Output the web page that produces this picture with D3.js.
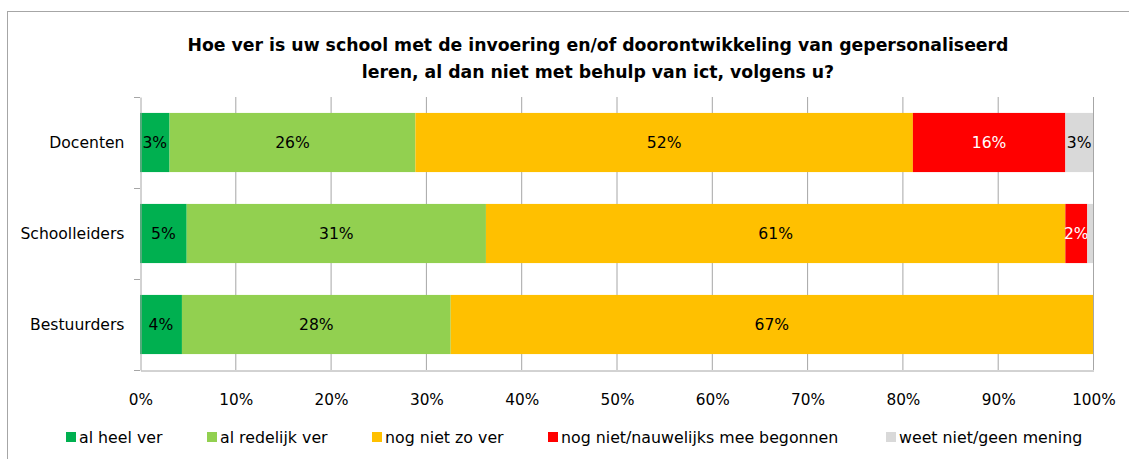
<!DOCTYPE html>
<html><head><meta charset="utf-8">
<script src="https://cdn.jsdelivr.net/npm/d3@7"></script>
<style>
html,body{margin:0;padding:0;background:#fff;}
svg{display:block;font-family:"DejaVu Sans",Verdana,sans-serif;}
</style></head>
<body>
<svg id="chart" width="1129" height="459"></svg>
<script>
const categories = ["Docenten", "Schoolleiders", "Bestuurders"];
const seriesNames = ["al heel ver", "al redelijk ver", "nog niet zo ver", "nog niet/nauwelijks mee begonnen", "weet niet/geen mening"];
const alHeelVer = [3.1, 4.9, 4.4];
const alRedelijkVer = [25.8, 31.4, 28.2];
const nogNietZoVer = [52.2, 60.8, 67.4];
const nogNietBegonnen = [16.0, 2.3, 0];
const weetNiet = [2.9, 0.6, 0];
const tickValues = [0, 10, 20, 30, 40, 50, 60, 70, 80, 90, 100];
const titleLines = ["Hoe ver is uw school met de invoering en/of doorontwikkeling van gepersonaliseerd", "leren, al dan niet met behulp van ict, volgens u?"];

const colors = ["#00b050", "#92d050", "#ffc000", "#ff0000", "#d9d9d9"];
const labelColors = ["#000", "#000", "#000", "#fff", "#000"];
const seriesValues = [alHeelVer, alRedelijkVer, nogNietZoVer, nogNietBegonnen, weetNiet];

const svg = d3.select("#chart");
// outer frame
svg.append("rect").attr("x", 7.5).attr("y", 11.5).attr("width", 1140).attr("height", 470)
  .attr("fill", "none").attr("stroke", "#a6a6a6").attr("stroke-width", 1);

const m = {left: 140, right: 1093, top: 97, bottom: 370};
const x = d3.scaleLinear().domain([0, 100]).range([m.left, m.right]);
const y = d3.scaleBand().domain(categories).range([m.top, m.bottom]).paddingInner(0.35).paddingOuter(0.175);

// title
const title = svg.append("text").attr("x", 598).attr("text-anchor", "middle")
  .attr("font-weight", "bold").attr("font-size", 17.3).attr("fill", "#000");
titleLines.forEach((t, i) => title.append("tspan").attr("x", 598).attr("y", 51 + i * 27).text(t));

// gridlines
svg.append("g").selectAll("line").data(tickValues.slice(1)).join("line")
  .attr("x1", d => x(d) + 0.5).attr("x2", d => x(d) + 0.5)
  .attr("y1", m.top).attr("y2", m.bottom)
  .attr("stroke", "#a6a6a6").attr("stroke-width", 1);

// stacked bars
const rows = categories.map((c, i) => {
  const o = {cat: c};
  seriesNames.forEach((s, j) => o[s] = seriesValues[j][i]);
  return o;
});
const stack = d3.stack().keys(seriesNames)(rows);
const fmt = d => Math.round(d) + "%";

stack.forEach((layer, j) => {
  const g = svg.append("g");
  g.selectAll("rect").data(layer).join("rect")
    .attr("x", d => x(d[0])).attr("width", d => x(d[1]) - x(d[0]))
    .attr("y", d => y(d.data.cat)).attr("height", y.bandwidth())
    .attr("fill", colors[j]);
  g.selectAll("text").data(layer.filter(d => d[1] - d[0] >= 1)).join("text")
    .attr("x", d => (x(d[0]) + x(d[1])) / 2)
    .attr("y", d => y(d.data.cat) + y.bandwidth() / 2)
    .attr("dy", "0.36em").attr("text-anchor", "middle")
    .attr("font-size", 15.6).attr("fill", labelColors[j])
    .text(d => fmt(d[1] - d[0]));
});

// y axis
const yAxis = svg.append("g").attr("transform", `translate(${m.left + 0.5},0)`)
  .call(d3.axisLeft(y).tickSize(0).tickPadding(16));
yAxis.select(".domain").attr("stroke", "#a6a6a6");
yAxis.selectAll("text").attr("font-size", 15.6).attr("fill", "#000").attr("font-family", "DejaVu Sans");
// y ticks at band boundaries
const bounds = [m.top, ...categories.map(c => y(c) + y.bandwidth() + y.step() * y.paddingInner() / 2)];
svg.append("g").selectAll("line").data(bounds).join("line")
  .attr("x1", m.left - 6).attr("x2", m.left).attr("y1", d => Math.round(d) + 0.5).attr("y2", d => Math.round(d) + 0.5)
  .attr("stroke", "#a6a6a6");

// x axis
const xAxis = svg.append("g").attr("transform", `translate(0.5,${m.bottom + 0.5})`)
  .call(d3.axisBottom(x).tickValues(tickValues).tickSize(0).tickPadding(24).tickFormat(d => d + "%"));
xAxis.select(".domain").attr("stroke", "#a6a6a6");
xAxis.selectAll("text").attr("font-size", 15.3).attr("fill", "#000").attr("font-family", "DejaVu Sans");
svg.append("line").attr("x1", m.left - 6).attr("x2", m.left).attr("y1", m.bottom + 0.5).attr("y2", m.bottom + 0.5).attr("stroke", "#a6a6a6");

// legend
const legendX = [66, 207, 372, 548, 886];
const lg = svg.append("g").selectAll("g").data(seriesNames).join("g")
  .attr("transform", (d, i) => `translate(${legendX[i]},438)`);
lg.append("rect").attr("x", 0).attr("y", -6).attr("width", 10).attr("height", 10).attr("fill", (d, i) => colors[i]);
lg.append("text").attr("x", 13).attr("dy", "0.32em").attr("font-size", 15.8).attr("fill", "#000").text(d => d);
</script>
</body></html>
